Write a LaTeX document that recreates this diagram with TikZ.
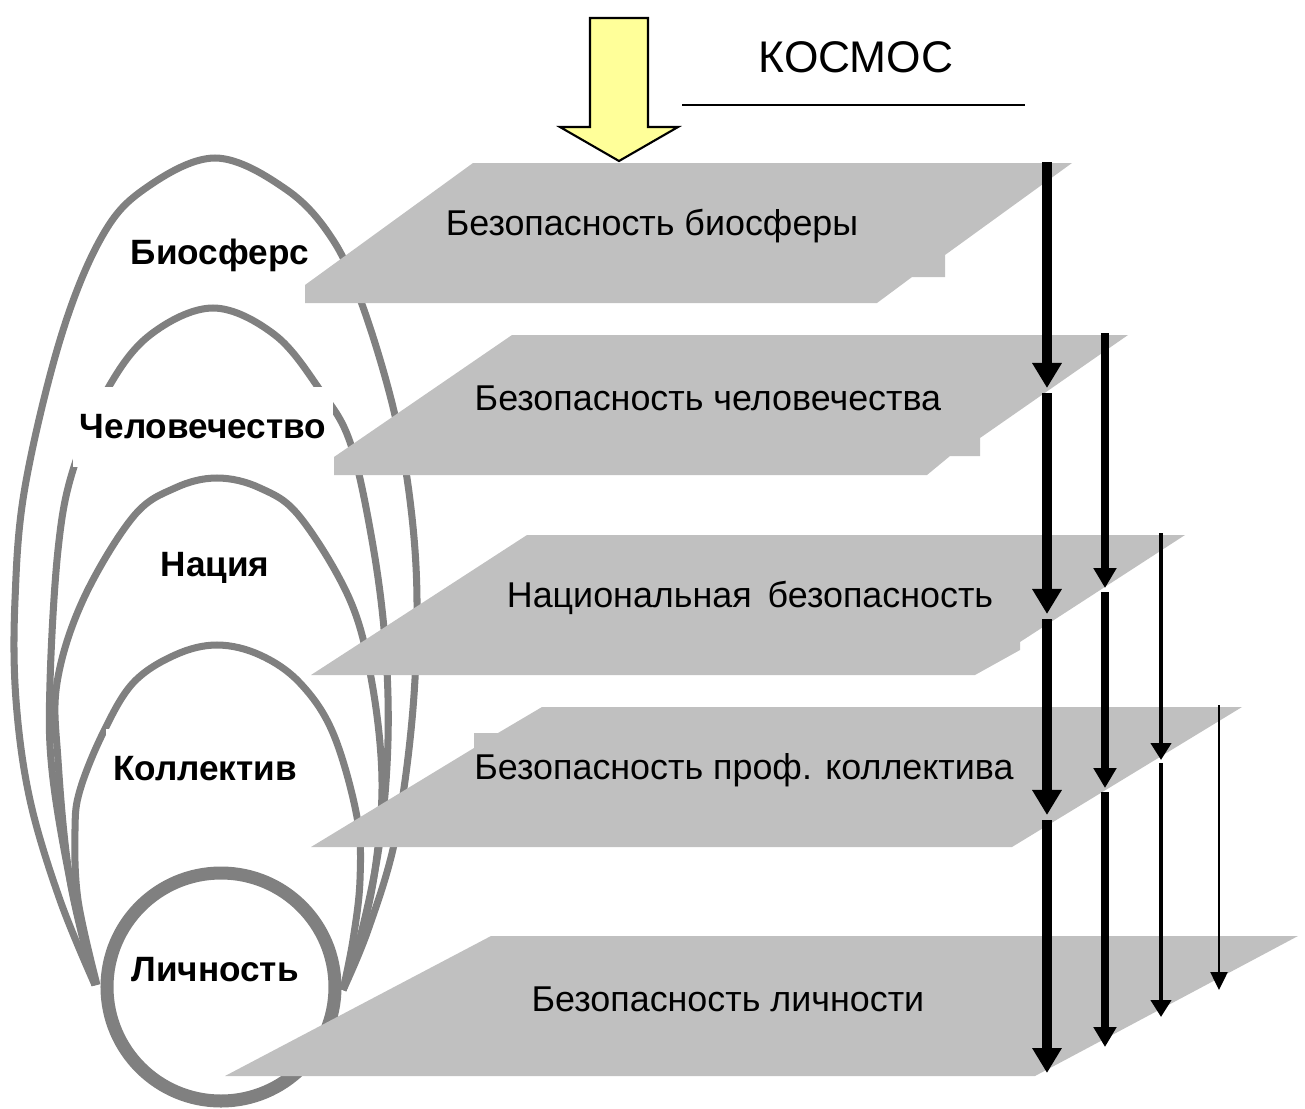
\documentclass[tikz,border=0pt]{standalone}
\usepackage{fontspec}
\setmainfont{Liberation Sans}
\usetikzlibrary{arrows.meta}
\definecolor{planegray}{HTML}{C0C0C0}
\definecolor{ringgray}{HTML}{808080}
\definecolor{sunyellow}{HTML}{FFFF99}

\begin{document}
\begin{tikzpicture}[x=0.01cm, y=-0.01cm,
    ringline/.style={ringgray, line width=2pt},
    plane/.style={fill=planegray},
    ringlabel/.style={fill=white, font=\fontsize{10}{12}\selectfont\bfseries, inner xsep=2pt},
    tall/.style={minimum height=0.8cm},
    planelabel/.style={font=\fontsize{10.2}{12}\selectfont},
    shaft/.style n args={3}{line width=#1, -{Triangle[length=#2, width=#3]}}]
  \useasboundingbox (0,0) rectangle (1305,1108);
  % --- nested rings, pinched at the bottom ---
  \draw[ringline] plot[smooth, tension=0.6] coordinates {(95,985) (60,900) (30,800) (16,700) (15,600)
      (25,487) (60,340) (100,240) (143,190) (215,158) (287,190) (333,240) (363,307) (393,407)
      (410,500) (417,600) (412,720) (395,840) (368,930) (343,990)};
  \draw[ringline] plot[smooth, tension=0.6] coordinates {(95,985) (70,880) (52,770) (50,683) (58,550)
      (73,470) (107,390) (150,335) (213,308) (275,335) (320,390) (350,442) (372,540) (385,640)
      (388,740) (380,840) (362,930) (343,990)};
  \draw[ringline] plot[smooth, tension=0.6] coordinates {(95,985) (70,880) (58,760) (57,683) (83,600)
      (133,517) (175,488) (217,478) (260,488) (300,517) (350,600) (372,683) (382,780) (375,870)
      (360,940) (343,990)};
  \draw[ringline] plot[smooth, tension=0.6] coordinates {(97,985) (78,900) (75,830) (80,790) (103,733)
      (133,683) (175,655) (217,645) (260,655) (300,683) (333,733) (357,817) (360,880) (353,940)
      (343,990)};
  % personal ring
  \draw[ringgray, line width=3.7pt] (221,987) circle (114);
  % --- ring labels ---
  \node[ringlabel]       (bio)  at (220,255) {Биосферс};
  \node[ringlabel, tall] (hum)  at (203,427) {Человечество};
  \node[ringlabel]       (nat)  at (215,568) {Нация};
  \node[ringlabel, tall] (coll) at (205,769) {Коллектив};
  \node[ringlabel]       (pers) at (215,970) {Личность};
  % --- security planes ---
  \fill[plane] (473,163) -- (1072,163) -- (945,255) -- (945,277) -- (912,277) -- (877,303)
      -- (305,303) -- (305,285) -- cycle;
  \fill[plane] (512,335) -- (1128,335) -- (980,438) -- (980,456) -- (950,456) -- (927,475)
      -- (334,475) -- (334,457) -- cycle;
  \fill[plane] (527,535) -- (1185,535) -- (1020,642) -- (1020,650) -- (975,675) -- (311,675) -- cycle;
  \fill[plane] (542,707) -- (1242,707) -- (1012,847) -- (311,847) -- (474,748) -- (474,733)
      -- (498,733) -- cycle;
  \fill[plane] (491,936) -- (1298,936) -- (1035,1076) -- (225,1076) -- cycle;
  \node[planelabel] (sbio)  at (652,226) {Безопасность биосферы};
  \node[planelabel] (shum)  at (708,398) {Безопасность человечества};
  \node[planelabel] (snat)  at (750,598) {Национальная\, безопасность};
  \node[planelabel] (scoll) at (744,770) {Безопасность проф. коллектива};
  \node[planelabel] (spers) at (728,999) {Безопасность личности};
  % --- cosmos input ---
  \fill[sunyellow, draw=black, line width=0.6pt] (590,18) -- (648,18) -- (648,127) -- (678,127)
      -- (619,161) -- (560,127) -- (590,127) -- cycle;
  \node[font=\fontsize{12.6}{15}\selectfont] (kosmos) at (856,57) {КОСМОС};
  \draw[line width=0.6pt] (682,105) -- (1025,105);
  % --- downward influence arrows, one column per level ---
  \foreach \n/\x/\ya/\yb/\w/\l/\h in {
      a1/1047/162/388/2.85pt/2.5mm/2.8mm, a2/1047/393/614/2.85pt/2.5mm/2.8mm,
      a3/1047/619/815/2.85pt/2.5mm/2.8mm, a4/1047/820/1073/2.85pt/2.5mm/2.8mm,
      b1/1105/333/588/2pt/2mm/2.2mm, b2/1105/592/788/2pt/2mm/2.2mm, b3/1105/792/1047/2pt/2mm/2.2mm,
      c1/1161/533/760/1.4pt/1.7mm/2mm, c2/1161/763/1017/1.4pt/1.7mm/2mm,
      d1/1219/705/990/0.7pt/1.8mm/1.7mm}{
    \coordinate (\n-s) at (\x,\ya);
    \coordinate (\n-e) at (\x,\yb);
    \draw[shaft={\w}{\l}{\h}] (\n-s) -- (\n-e);
  }
\end{tikzpicture}
\end{document}
